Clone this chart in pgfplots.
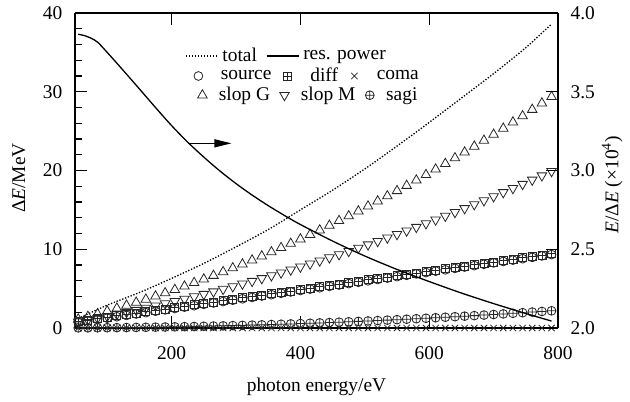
\documentclass[border=0pt]{standalone}
\usepackage{fontspec}
\setmainfont{Liberation Serif}
\usepackage{pgfplots}
\pgfplotsset{compat=1.18}
\usepackage{pgfplotstable}
\usetikzlibrary{arrows.meta}

\pgfdeclareplotmark{boxplus}{%
  \pgfpathrectangle{\pgfqpoint{-\pgfplotmarksize}{-\pgfplotmarksize}}{\pgfqpoint{2\pgfplotmarksize}{2\pgfplotmarksize}}%
  \pgfpathmoveto{\pgfqpoint{-\pgfplotmarksize}{0pt}}%
  \pgfpathlineto{\pgfqpoint{\pgfplotmarksize}{0pt}}%
  \pgfpathmoveto{\pgfqpoint{0pt}{-\pgfplotmarksize}}%
  \pgfpathlineto{\pgfqpoint{0pt}{\pgfplotmarksize}}%
  \pgfusepathqstroke}

\pgfplotstableread{
x source diff coma slopG slopM sagi
55 0.72 0.84 0 1.11 0.79 0.011
70 0.90 1.02 0 1.44 1.02 0.017
85 1.07 1.19 0 1.78 1.25 0.025
100 1.25 1.37 0 2.13 1.50 0.035
115 1.43 1.55 0 2.49 1.75 0.046
130 1.60 1.72 0 2.86 2.01 0.059
145 1.78 1.90 0 3.24 2.27 0.074
160 1.95 2.07 0 3.63 2.54 0.090
175 2.13 2.25 0 4.03 2.82 0.107
190 2.30 2.42 0 4.44 3.10 0.126
205 2.48 2.60 0 4.86 3.39 0.147
220 2.65 2.77 0 5.29 3.69 0.169
235 2.83 2.95 0 5.74 3.99 0.193
250 3.01 3.13 0 6.19 4.30 0.219
265 3.18 3.30 0 6.65 4.62 0.246
280 3.36 3.48 0 7.12 4.94 0.274
295 3.53 3.65 0 7.61 5.27 0.305
310 3.71 3.83 0 8.10 5.61 0.336
325 3.88 4.00 0 8.60 5.95 0.370
340 4.06 4.18 0 9.12 6.30 0.405
355 4.23 4.35 0 9.64 6.66 0.441
370 4.41 4.53 0 10.18 7.02 0.479
385 4.58 4.70 0 10.72 7.39 0.519
400 4.76 4.88 0 11.28 7.77 0.560
415 4.94 5.06 0 11.85 8.15 0.603
430 5.11 5.23 0 12.42 8.54 0.647
445 5.29 5.41 0 13.01 8.94 0.693
460 5.46 5.58 0 13.61 9.34 0.741
475 5.64 5.76 0 14.21 9.75 0.790
490 5.81 5.93 0 14.83 10.17 0.840
505 5.99 6.11 0 15.46 10.59 0.893
520 6.16 6.28 0 16.10 11.02 0.946
535 6.34 6.46 0 16.75 11.46 1.002
550 6.52 6.64 0 17.41 11.90 1.059
565 6.69 6.81 0 18.08 12.35 1.117
580 6.87 6.99 0 18.76 12.81 1.177
595 7.04 7.16 0 19.45 13.27 1.239
610 7.22 7.34 0 20.15 13.74 1.302
625 7.39 7.51 0 20.86 14.22 1.367
640 7.57 7.69 0 21.58 14.70 1.434
655 7.74 7.86 0 22.31 15.19 1.502
670 7.92 8.04 0 23.06 15.69 1.571
685 8.09 8.21 0 23.81 16.19 1.642
700 8.27 8.39 0 24.57 16.70 1.715
715 8.45 8.57 0 25.34 17.22 1.789
730 8.62 8.74 0 26.13 17.74 1.865
745 8.80 8.92 0 26.92 18.27 1.943
760 8.97 9.09 0 27.73 18.81 2.022
775 9.15 9.27 0 28.54 19.35 2.102
790 9.32 9.44 0 29.36 19.90 2.184
}\marktable

\pgfplotstableread{
x total
55 1.2
100 2.9
150 4.5
200 6.3
250 8.2
300 10.3
350 12.5
400 15.0
450 17.5
500 20.2
550 23.1
600 26.1
650 29.2
700 32.3
750 35.6
790 38.6
}\totaltable

\pgfplotstableread{
x res
55 3.865
65 3.856
75 3.840
85 3.815
100 3.750
125 3.635
150 3.518
175 3.400
200 3.285
225 3.180
250 3.085
275 2.997
300 2.917
325 2.844
350 2.777
375 2.715
400 2.657
450 2.552
500 2.457
550 2.372
600 2.295
650 2.222
700 2.155
750 2.092
790 2.044
}\restable

\pgfplotsset{
  base/.style={
    scale only axis, width=483bp, height=315bp,
    xmin=50, xmax=800,
    at={(0,0)}, anchor=south west,
    tick align=inside, major tick length=12bp, minor tick length=7bp,
    every tick/.style={black, line width=1.1bp},
    axis line style={line width=1.2bp},
    /pgf/number format/assume math mode=true,
    legend style={draw=none, fill=none, inner sep=0pt, outer sep=0pt,
      row sep=0pt, nodes={inner sep=1bp}},
  },
  mk/.style={only marks, black!85, line width=0.8bp},
  marklegend/.style={
    legend image code/.code={\path (-5bp,0bp) (5bp,0bp); \draw[##1] plot coordinates {(0bp,0bp)};},
  },
}

\begin{document}
\fontsize{19.5}{22}\selectfont
\begin{tikzpicture}[font=\fontsize{19.5}{22}\selectfont]
\begin{axis}[base, marklegend,
  ymin=0, ymax=40, ytick={0,10,20,30,40}, minor y tick num=4,
  axis y line*=left,
  xtick={200,400,600,800}, xtick pos=both,
  yticklabel style={xshift=-6bp},
  xticklabel style={yshift=-12bp},
  xlabel={photon energy/eV},
  ylabel={Δ\textit{E}/MeV},
  every axis x label/.style={at={(axis description cs:0.5,-0.186)}, anchor=center},
  every axis y label/.style={at={(axis description cs:-0.116,0.476)}, anchor=center, rotate=90},
  legend style={at={(rel axis cs:0.2443,0.800)}, anchor=west,
    /tikz/every odd column/.append style={column sep=16bp},
    /tikz/every even column/.append style={column sep=10bp}},
  legend columns=3,
]
\addplot[forget plot, black, line width=1.3bp, dash pattern=on 1.3bp off 1.7bp, smooth] table[x=x, y=total] {\totaltable};
\addplot[forget plot, mk, mark=triangle, mark size=5.5bp] table[x=x, y=slopG] {\marktable};
\addplot[forget plot, mk, mark=triangle, mark size=5.5bp, mark options={rotate=180}] table[x=x, y=slopM] {\marktable};
\addplot[forget plot, mk, mark=oplus, mark size=4.4bp] table[x=x, y=sagi] {\marktable};
\addplot[mk, mark=o, mark size=4.4bp] table[x=x, y=source] {\marktable};
\addlegendentry{source}
\addplot[mk, mark=boxplus, mark size=4bp] table[x=x, y=diff] {\marktable};
\addlegendentry{diff}
\addplot[mk, mark=x, mark size=4.5bp] table[x=x, y=coma] {\marktable};
\addlegendentry{coma}
\draw[line width=1.3bp, -{Triangle[length=17bp,width=8bp]}] (axis cs:226,23.45) -- (axis cs:293,23.45);
\end{axis}

\begin{axis}[base, hide axis, ymin=0, ymax=40, marklegend,
  legend style={at={(rel axis cs:0.2526,0.739)}, anchor=west,
    /tikz/every odd column/.append style={column sep=10bp},
    /tikz/every even column/.append style={column sep=8bp}},
  legend columns=3,
]
\addlegendimage{mk, mark=triangle, mark size=5.5bp}
\addlegendentry{slop G}
\addlegendimage{mk, mark=triangle, mark size=5.5bp, mark options={rotate=180}}
\addlegendentry{slop M}
\addlegendimage{mk, mark=oplus, mark size=4.4bp}
\addlegendentry{sagi}
\end{axis}

\begin{axis}[base,
  ymin=2, ymax=4, ytick={2,2.5,3,3.5,4},
  axis y line*=right, axis x line=none,
  yticklabel style={xshift=6bp, /pgf/number format/.cd, fixed, fixed zerofill, precision=1},
  ylabel={\textit{E}/Δ\textit{E} (×10\textsuperscript{4})},
  every axis y label/.style={at={(axis description cs:1.112,0.454)}, anchor=center, rotate=90},
  legend image code/.code={\draw[#1] (0bp,0bp) -- (32bp,0bp);},
  legend style={at={(rel axis cs:0.228,0.8635)}, anchor=west,
    /tikz/every odd column/.append style={column sep=3bp},
    /tikz/every even column/.append style={column sep=8bp}},
  legend columns=2,
]
\addlegendimage{black, line width=1.3bp, dash pattern=on 1.3bp off 1.7bp}
\addlegendentry{total}
\addplot[black, line width=1.3bp, smooth] table[x=x, y=res] {\restable};
\addlegendentry{res. power}
\end{axis}
\pgfresetboundingbox
\path[use as bounding box] (-75bp,-74bp) rectangle (555bp,328bp);
\end{tikzpicture}
\end{document}
